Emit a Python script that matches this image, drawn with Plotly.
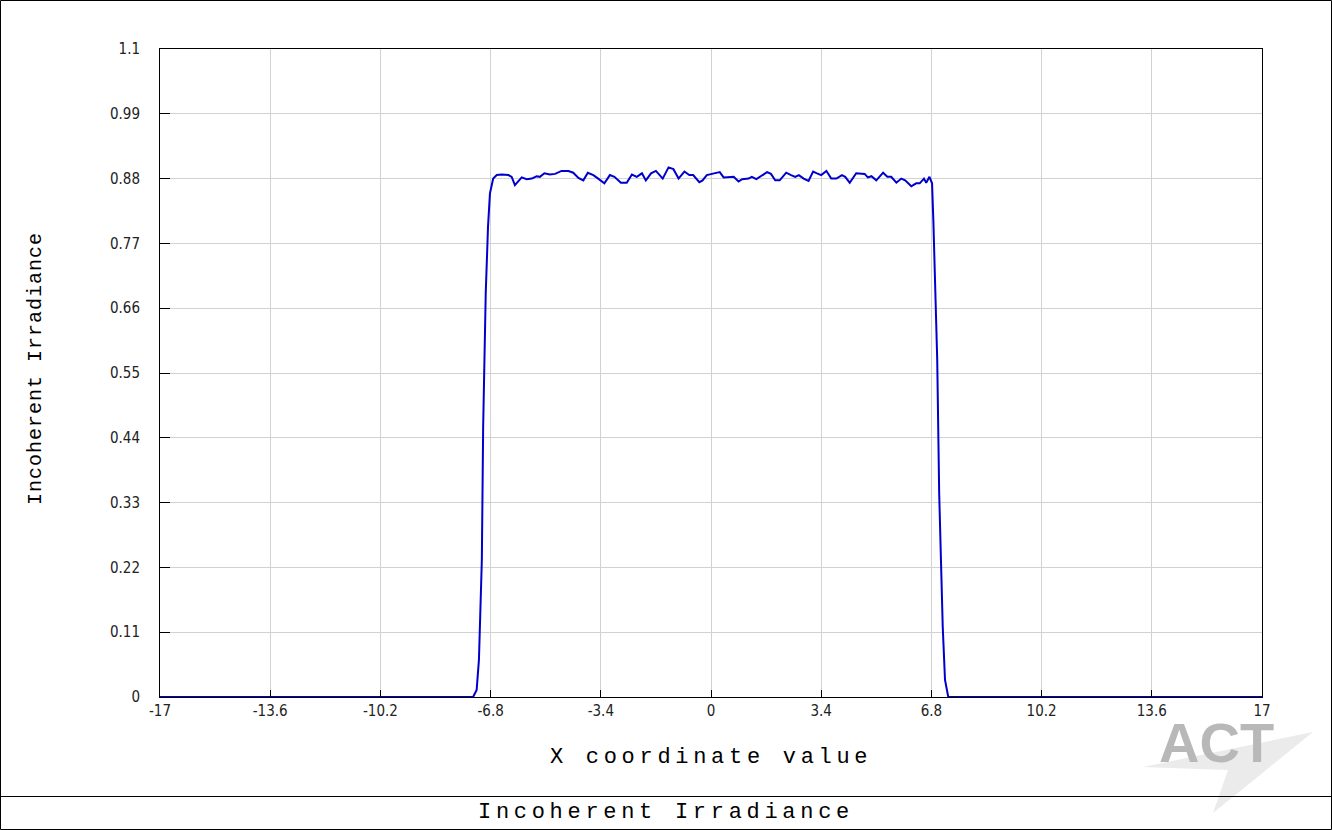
import plotly.graph_objects as go

# ---- data ----
x_vals = [-17.0, -7.34, -7.23, -7.16, -7.07, -7.03, -6.95, -6.88, -6.82, -6.72,
          -6.61, -6.46, -6.25, -6.15, -6.05, -5.95, -5.84, -5.69, -5.53, -5.38,
          -5.28, -5.14, -4.97, -4.81, -4.61, -4.40, -4.25, -4.09, -3.94, -3.80,
          -3.63, -3.48, -3.29, -3.12, -2.98, -2.78, -2.60, -2.44, -2.29, -2.13,
          -2.01, -1.85, -1.70, -1.49, -1.31, -1.16, -1.00, -0.82, -0.67, -0.55,
          -0.36, -0.26, -0.13, 0.03, 0.13, 0.27, 0.39, 0.55, 0.70, 0.85,
          0.96, 1.16, 1.26, 1.40, 1.57, 1.73, 1.85, 1.98, 2.12, 2.32,
          2.47, 2.60, 2.71, 2.86, 3.01, 3.15, 3.27, 3.40, 3.56, 3.71,
          3.87, 4.04, 4.14, 4.28, 4.48, 4.64, 4.74, 4.84, 4.95, 5.10,
          5.31, 5.44, 5.56, 5.72, 5.87, 5.99, 6.18, 6.33, 6.44, 6.57,
          6.64, 6.74, 6.82, 6.86, 6.98, 7.04, 7.15, 7.22, 7.32, 17.0]
y_vals = [0.0, 0.0, 0.012, 0.063, 0.233, 0.458, 0.686, 0.798, 0.855, 0.880,
          0.886, 0.887, 0.886, 0.883, 0.869, 0.875, 0.882, 0.879, 0.880, 0.884,
          0.883, 0.889, 0.887, 0.888, 0.893, 0.893, 0.890, 0.881, 0.877, 0.890,
          0.886, 0.880, 0.872, 0.886, 0.883, 0.873, 0.873, 0.887, 0.883, 0.889,
          0.877, 0.889, 0.893, 0.880, 0.899, 0.896, 0.880, 0.892, 0.886, 0.886,
          0.874, 0.877, 0.886, 0.888, 0.889, 0.891, 0.882, 0.882, 0.883, 0.875,
          0.879, 0.880, 0.883, 0.879, 0.886, 0.891, 0.888, 0.877, 0.877, 0.890,
          0.886, 0.883, 0.886, 0.880, 0.876, 0.892, 0.889, 0.886, 0.893, 0.880,
          0.880, 0.886, 0.883, 0.873, 0.889, 0.889, 0.888, 0.882, 0.884, 0.877,
          0.890, 0.883, 0.883, 0.873, 0.880, 0.877, 0.867, 0.872, 0.872, 0.880,
          0.873, 0.883, 0.872, 0.810, 0.572, 0.346, 0.119, 0.029, 0.0, 0.0]

x_ticks = [-17, -13.6, -10.2, -6.8, -3.4, 0, 3.4, 6.8, 10.2, 13.6, 17]
x_tick_text = ["-17", "-13.6", "-10.2", "-6.8", "-3.4", "0", "3.4", "6.8", "10.2", "13.6", "17"]
y_ticks = [0, 0.11, 0.22, 0.33, 0.44, 0.55, 0.66, 0.77, 0.88, 0.99, 1.1]
y_tick_text = ["0", "0.11", "0.22", "0.33", "0.44", "0.55", "0.66", "0.77", "0.88", "0.99", "1.1"]

x_title = "X coordinate value"
y_title = "Incoherent Irradiance"
bottom_title = "Incoherent Irradiance"

W, H = 1332, 830
L, R, T, B = 160, 1262, 49, 697


def px(xp):
    return (xp - L) / (R - L)


def py(yp):
    return (B - yp) / (B - T)


tick_font = dict(family="Liberation Sans Narrow, DejaVu Sans Condensed, Liberation Sans", size=15, color="#222")
mono = "Liberation Mono, Courier New, monospace"

fig = go.Figure()
fig.add_trace(go.Scatter(x=x_vals, y=y_vals, mode="lines",
                         line=dict(color="#0000CC", width=2), hoverinfo="skip"))

fig.update_layout(
    width=W, height=H,
    margin=dict(l=L, r=W - R, t=T, b=H - B, pad=0),
    paper_bgcolor="white", plot_bgcolor="white",
    showlegend=False,
    xaxis=dict(range=[-17, 17], tickvals=x_ticks, ticktext=x_tick_text,
               showgrid=True, gridcolor="#d2d2d2", gridwidth=1,
               showline=True, linecolor="black", linewidth=1, mirror=True,
               ticks="inside", ticklen=7, tickcolor="black",
               tickfont=tick_font, zeroline=False, fixedrange=True),
    yaxis=dict(range=[0, 1.1], tickvals=y_ticks, ticktext=y_tick_text,
               showgrid=True, gridcolor="#d2d2d2", gridwidth=1,
               showline=True, linecolor="black", linewidth=1, mirror=True,
               ticks="inside", ticklen=10, tickcolor="black",
               ticklabelstandoff=16,
               tickfont=tick_font, zeroline=False, fixedrange=True),
)

# figure border and bottom title box
fig.add_shape(type="rect", xref="paper", yref="paper",
              x0=px(0.5), x1=px(W - 0.5), y0=py(H - 0.5), y1=py(0.5),
              line=dict(color="black", width=1), layer="above")
fig.add_shape(type="line", xref="paper", yref="paper",
              x0=px(0.5), x1=px(W - 0.5), y0=py(796.5), y1=py(796.5),
              line=dict(color="black", width=1))

# ACT logo (swoosh + text)
fig.add_shape(type="path", xref="paper", yref="paper",
              path="M {} {} L {} {} L {} {} L {} {} Z".format(
                  px(1143), py(767), px(1313), py(732), px(1213), py(813), px(1228), py(770)),
              fillcolor="#ebebeb", line=dict(width=0), layer="below")
fig.add_annotation(x=px(1216), y=py(742), xref="paper", yref="paper",
                   xanchor="center", yanchor="middle",
                   text="<b>ACT</b>", showarrow=False,
                   font=dict(family="Liberation Sans, Arial", size=56, color="#b8b8b8"))

# titles
fig.add_annotation(x=px(711), y=py(757), xref="paper", yref="paper",
                   xanchor="center", yanchor="middle",
                   text='<span style="letter-spacing:4.7px">' + x_title + '</span>',
                   showarrow=False, font=dict(family=mono, size=22, color="black"))
fig.add_annotation(x=px(35), y=py(369), xref="paper", yref="paper",
                   xanchor="center", yanchor="middle",
                   text='<span style="letter-spacing:1px">' + y_title + '</span>',
                   textangle=-90, showarrow=False,
                   font=dict(family=mono, size=20, color="black"))
fig.add_annotation(x=px(666), y=py(813), xref="paper", yref="paper",
                   xanchor="center", yanchor="middle",
                   text='<span style="letter-spacing:4.7px">' + bottom_title + '</span>',
                   showarrow=False, font=dict(family=mono, size=22, color="black"))

fig.write_html("out.html", config={"displayModeBar": False})

# remove the default browser page margin so the figure sits at the window origin
with open("out.html", "r", encoding="utf-8") as f:
    html = f.read()
html = html.replace("<head>", "<head><style>html,body{margin:0;padding:0;overflow:hidden;}</style>", 1)
with open("out.html", "w", encoding="utf-8") as f:
    f.write(html)
